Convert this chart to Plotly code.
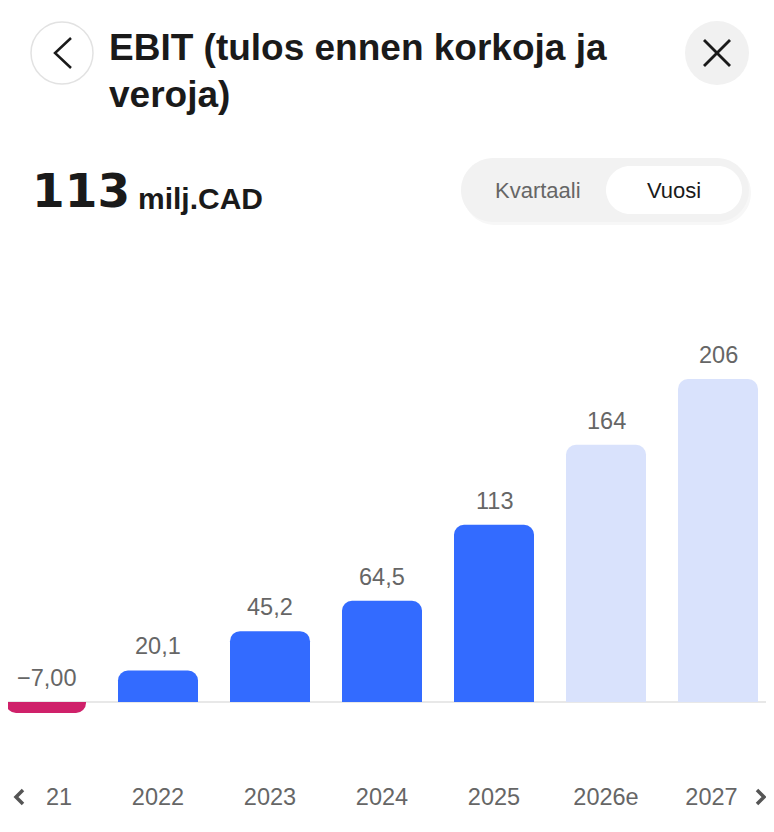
import plotly.graph_objects as go

# EBIT per year, milj. CAD (2026e, 2027e are estimates)
years = ["2021", "2022", "2023", "2024", "2025", "2026e", "2027e"]
ebit = [-7.0, 20.1, 45.2, 64.5, 113, 164, 206]
headline = ebit[4]

title_lines = ["EBIT (tulos ennen korkoja ja", "veroja)"]
unit = "milj.CAD"
toggle = ["Kvartaali", "Vuosi"]

BLUE = "#336BFF"
LIGHT = "#D9E2FC"
NEG = "#CF216A"
GREY_TXT = "#666666"
INK = "#1A1A1A"

OFF = 8  # page body margin, figure starts 8px in
W, H = 774 - OFF, 832 - OFF
TOP, BOT = 250, 780  # plot area, page pixels
ZERO_PX = 702
PX_PER_UNIT = 1.568


def fmt(v):
    a = abs(v)
    if a >= 100:
        s = f"{a:.0f}"
    elif a >= 10:
        s = f"{a:.1f}"
    else:
        s = f"{a:.2f}"
    return ("\u2212" if v < 0 else "") + s.replace(".", ",")


def px(x):
    return (x - OFF) / W


def py(y):
    return (BOT - y) / (BOT - TOP)


def rounded(x0, y0, x1, y1, r):
    # rounded rect path in paper coords, drawn from page pixel corners
    k = 0.45 * r
    pts = [
        ("M", x0 + r, y0), ("L", x1 - r, y0),
        ("C", x1 - k, y0, x1, y0 + k, x1, y0 + r),
        ("L", x1, y1 - r),
        ("C", x1, y1 - k, x1 - k, y1, x1 - r, y1),
        ("L", x0 + r, y1),
        ("C", x0 + k, y1, x0, y1 - k, x0, y1 - r),
        ("L", x0, y0 + r),
        ("C", x0, y0 + k, x0 + k, y0, x0 + r, y0),
    ]
    out = ""
    for p in pts:
        cmd, nums = p[0], p[1:]
        xy = []
        for i in range(0, len(nums), 2):
            xy.append(f"{px(nums[i]):.5f},{py(nums[i + 1]):.5f}")
        out += cmd + " ".join(xy) + " "
    return out + "Z"


colors = []
for yr, v in zip(years, ebit):
    if v < 0:
        colors.append(NEG)
    elif yr.endswith("e"):
        colors.append(LIGHT)
    else:
        colors.append(BLUE)

fig = go.Figure(go.Bar(
    x=years, y=ebit,
    marker=dict(color=colors, cornerradius=10, line=dict(width=0)),
    hoverinfo="skip",
))

# value labels above each bar (or above the axis for negatives)
for i, v in enumerate(ebit):
    fig.add_annotation(x=i, y=max(v, 0), xref="x", yref="y",
                       text=fmt(v), showarrow=False, xanchor="center", yanchor="bottom", yshift=9,
                       font=dict(family="Liberation Sans", size=23.5, color=GREY_TXT))

shapes = []
# back button
shapes.append(dict(type="circle", xref="paper", yref="paper",
                   x0=px(31), x1=px(93), y0=py(22), y1=py(84),
                   line=dict(color="#E2E2E2", width=1.5), fillcolor="white"))
shapes.append(dict(type="path", xref="paper", yref="paper",
                   path=f"M{px(71)},{py(38)} L{px(55)},{py(53)} L{px(71)},{py(68)}",
                   line=dict(color=INK, width=2.5)))
# close button
shapes.append(dict(type="circle", xref="paper", yref="paper",
                   x0=px(685), x1=px(749), y0=py(21), y1=py(85),
                   line=dict(width=0), fillcolor="#F1F1F1"))
for a, b in [((704, 40), (730, 66)), ((730, 40), (704, 66))]:
    shapes.append(dict(type="line", xref="paper", yref="paper",
                       x0=px(a[0]), y0=py(a[1]), x1=px(b[0]), y1=py(b[1]),
                       line=dict(color=INK, width=2.8)))
# period toggle
shapes.append(dict(type="path", xref="paper", yref="paper",
                   path=rounded(463, 161, 751, 225, 32),
                   line=dict(width=0), fillcolor="#F7F7F7"))
shapes.append(dict(type="path", xref="paper", yref="paper",
                   path=rounded(461, 158, 749, 222, 32),
                   line=dict(width=0), fillcolor="#F2F2F2"))
shapes.append(dict(type="path", xref="paper", yref="paper",
                   path=rounded(606, 166, 742, 214, 24),
                   line=dict(width=0), fillcolor="white"))
# scroll overlays over the cut-off tick labels
shapes.append(dict(type="rect", xref="paper", yref="paper", layer="above",
                   x0=px(0), x1=px(46.5), y0=py(815), y1=py(781),
                   line=dict(width=0), fillcolor="white"))
shapes.append(dict(type="rect", xref="paper", yref="paper", layer="above",
                   x0=px(737), x1=px(776), y0=py(815), y1=py(781),
                   line=dict(width=0), fillcolor="white"))
shapes.append(dict(type="path", xref="paper", yref="paper", layer="above",
                   path=f"M{px(23)},{py(790)} L{px(16)},{py(797)} L{px(23)},{py(804)}",
                   line=dict(color="#555555", width=3.5)))
shapes.append(dict(type="path", xref="paper", yref="paper", layer="above",
                   path=f"M{px(757)},{py(790)} L{px(764)},{py(797)} L{px(757)},{py(804)}",
                   line=dict(color="#555555", width=3.5)))

fig.update_layout(shapes=shapes)


def label(text, x, y, font, xanchor="left"):
    fig.add_annotation(x=px(x), y=py(y), xref="paper", yref="paper",
                       text=text, showarrow=False, xanchor=xanchor, yanchor="middle",
                       font=font)


head_font = dict(family="Liberation Sans", size=37, color=INK, weight="bold")
label(title_lines[0], 107, 47, head_font)
label(title_lines[1], 107, 95, head_font)
label(fmt(headline), 30, 190, dict(family="DejaVu Sans", size=47, color=INK, weight="bold"))
label(unit, 136, 198, dict(family="Liberation Sans", size=30, color=INK, weight="bold"))
label(toggle[0], 538, 190, dict(family="Liberation Sans", size=22, color=GREY_TXT), "center")
label(toggle[1], 674, 190, dict(family="Liberation Sans", size=22, color=INK), "center")

x_left = -(46 - OFF) / 112
fig.update_layout(
    width=W, height=H,
    margin=dict(l=0, r=0, t=TOP - OFF, b=OFF + H - BOT, pad=0),
    paper_bgcolor="white", plot_bgcolor="white",
    showlegend=False, bargap=1 - 80 / 112,
    xaxis=dict(type="category", range=[x_left, x_left + W / 112],
               showgrid=False, zeroline=False, showline=False, ticks="",
               tickfont=dict(family="Liberation Sans", size=23.5, color=GREY_TXT),
               fixedrange=True),
    yaxis=dict(range=[-(BOT - ZERO_PX) / PX_PER_UNIT, (ZERO_PX - TOP) / PX_PER_UNIT],
               showgrid=False, showticklabels=False, ticks="", showline=False,
               zeroline=True, zerolinecolor="#E8E8E8", zerolinewidth=2,
               fixedrange=True),
)

fig.write_html("out.html", config={"displayModeBar": False})
